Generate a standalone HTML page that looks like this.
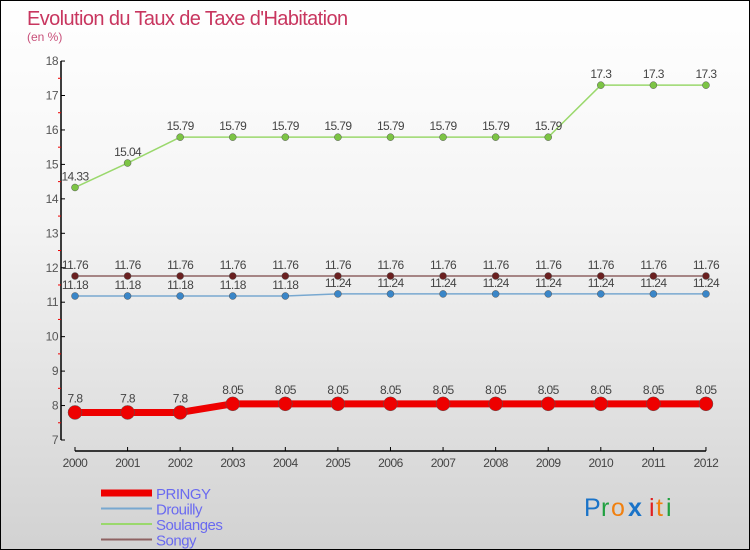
<!DOCTYPE html>
<html><head><meta charset="utf-8"><style>
body{margin:0}
#c{width:748px;height:548px;border:1px solid #000;background:linear-gradient(#ffffff,#f4f4f4 40%,#d2d2d2);position:relative;overflow:hidden;font-family:"Liberation Sans",sans-serif}
</style></head><body>
<div id="c">
<svg id="s" width="748" height="548" xmlns="http://www.w3.org/2000/svg">
<text x="26" y="24" font-size="20" fill="#c8365f" style="letter-spacing:-0.6px">Evolution du Taux de Taxe d'Habitation</text>
<text x="26" y="40" font-size="12" fill="#c8507a">(en %)</text>
<g id="axes"></g><g id="series"></g><g id="legend"></g>
<g font-size="25" font-family="Liberation Sans,sans-serif">
<text x="583" y="515" fill="#1a73c8">P</text><text x="600" y="515" fill="#20a040">r</text><text x="610" y="515" fill="#f08010">o</text><text x="627" y="515" fill="#1a73c8" font-weight="bold">x</text><text x="648" y="515" fill="#e02020">i</text><text x="655" y="515" fill="#f08010">t</text><text x="665" y="515" fill="#20a040">i</text>
</g>
</svg></div>
<script>
const years=[2000,2001,2002,2003,2004,2005,2006,2007,2008,2009,2010,2011,2012];
const yTicks=[7,8,9,10,11,12,13,14,15,16,17,18];
const pringy=[7.8,7.8,7.8,8.05,8.05,8.05,8.05,8.05,8.05,8.05,8.05,8.05,8.05];
const drouilly=[11.18,11.18,11.18,11.18,11.18,11.24,11.24,11.24,11.24,11.24,11.24,11.24,11.24];
const soulanges=[14.33,15.04,15.79,15.79,15.79,15.79,15.79,15.79,15.79,15.79,17.3,17.3,17.3];
const songy=[11.76,11.76,11.76,11.76,11.76,11.76,11.76,11.76,11.76,11.76,11.76,11.76,11.76];
const NS="http://www.w3.org/2000/svg";
const X=i=>74+i*52.58, Y=v=>439-(v-7)*34.45;
function mk(t,a,p){const e=document.createElementNS(NS,t);for(const k in a)e.setAttribute(k,a[k]);p.appendChild(e);return e;}
const ax=document.getElementById('axes');
let l=mk('line',{x1:60,y1:Y(18),x2:60,y2:Y(7),stroke:'#000','stroke-width':1.5},ax);


l=mk('line',{x1:X(0),y1:450,x2:X(12),y2:450,stroke:'#000','stroke-width':1.5},ax);


yTicks.forEach(v=>{mk('line',{x1:60,x2:64,y1:Y(v),y2:Y(v),stroke:'#000'},ax);
 const t=mk('text',{x:57,y:Y(v)+4,'text-anchor':'end','font-size':12,fill:'#555','letter-spacing':'-0.5'},ax);t.textContent=v;
 
 
 if(v<18)mk('line',{x1:57,x2:60,y1:Y(v+0.5),y2:Y(v+0.5),stroke:'#e00'},ax);});
years.forEach((y,i)=>{mk('line',{x1:X(i),x2:X(i),y1:446,y2:450,stroke:'#000'},ax);
 const t=mk('text',{x:X(i),y:466,'text-anchor':'middle','font-size':12,fill:'#444','letter-spacing':'-0.5'},ax);t.textContent=y;
 
 });
const sg=document.getElementById('series');
function series(name,data,col,dot,w,r,labOff){
 const g=mk('g',{},sg);
 
 
 mk('polyline',{points:data.map((v,i)=>X(i)+','+Y(v)).join(' '),fill:'none',stroke:col,'stroke-width':w,'stroke-linejoin':'round'},g);
 data.forEach((v,i)=>{const c=mk('circle',{cx:X(i),cy:Y(v),r:r,fill:dot,stroke:'#555','stroke-width':0.5},g);
  
  
  const t=mk('text',{x:X(i),y:Y(v)-labOff,'text-anchor':'middle','font-size':12,fill:'#444','letter-spacing':'-0.6'},g);t.textContent=v;
  
  });
}
series('soulanges',soulanges,'#9ad86c','#7cc444',1.5,3.5,7);
series('songy',songy,'#8e6262','#6a2020',1.5,3.5,7);
series('drouilly',drouilly,'#78a8d0','#3a86c8',1.5,3.5,7);
series('pringy',pringy,'#ee0000','#ee0000',7,7,10);
const lg=document.getElementById('legend');
[['PRINGY','#ee0000',7],['Drouilly','#78a8d0',2],['Soulanges','#9ad86c',2],['Songy','#8e6262',2]].forEach((d,i)=>{
 const y=492+i*15.5;
 const g=mk('g',{},lg);
 
 
 mk('line',{x1:100,x2:151,y1:y,y2:y,stroke:d[1],'stroke-width':d[2]},g);
 const t=mk('text',{x:155,y:y+6,'font-size':15,fill:'#6a6af0','letter-spacing':'-0.5'},g);t.textContent=d[0];});
</script>
</body></html>
